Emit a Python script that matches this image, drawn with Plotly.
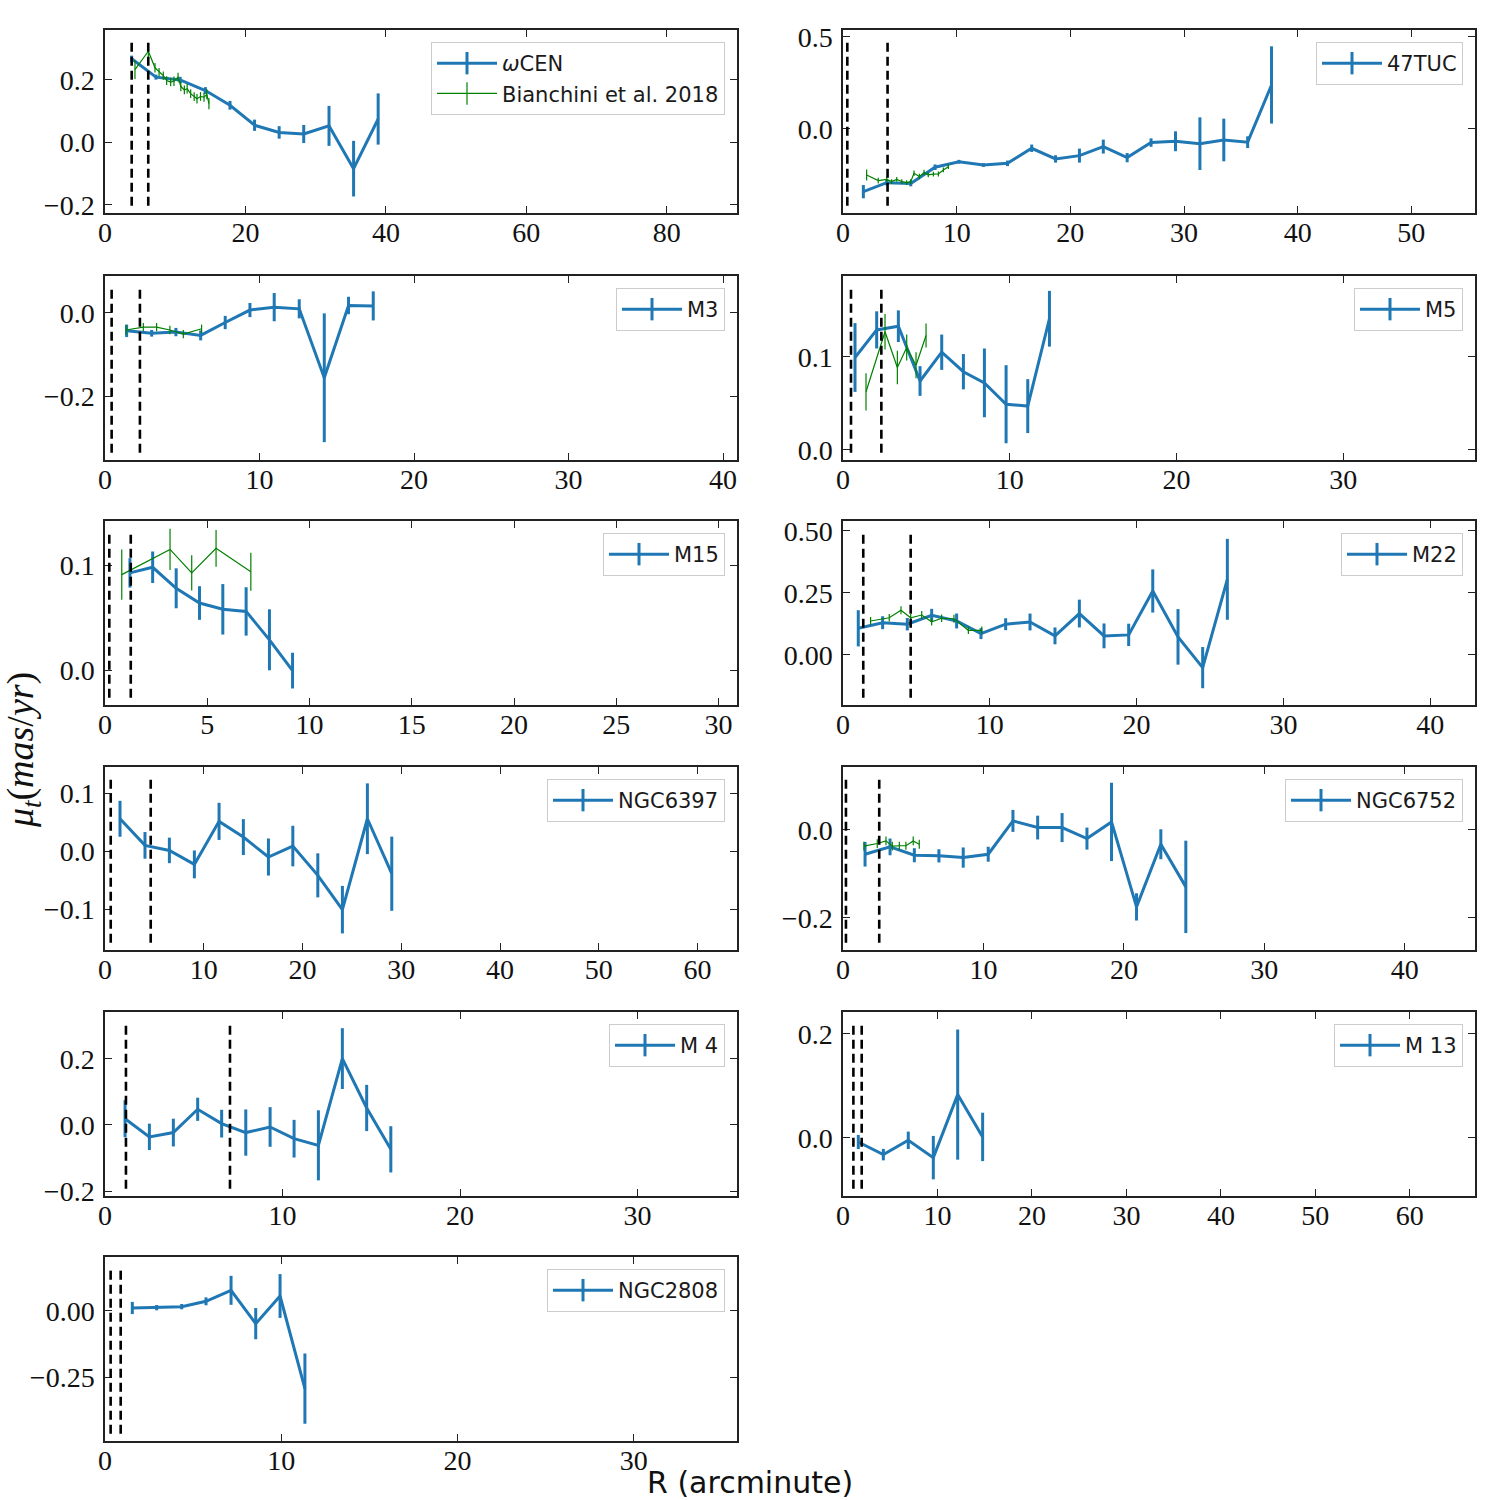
import plotly.graph_objects as go

BLUE = '#1f77b4'
GREEN = '#008000'

# ---------------- data ----------------
# omega CEN
omega_r = [3.8, 7.26, 10.7, 14.3, 17.8, 21.3, 24.8, 28.3, 31.9, 35.4, 38.9]
omega_mu = [0.268, 0.209, 0.200, 0.166, 0.119, 0.055, 0.032, 0.027, 0.053, -0.084, 0.075]
omega_err = [0.010, 0.008, 0.010, 0.011, 0.014, 0.018, 0.020, 0.029, 0.064, 0.089, 0.082]
omega_b_r = [4.27, 6.17, 7.12, 7.7, 8.3, 8.78, 9.35, 9.82, 10.4, 10.8, 11.3, 11.7, 12.2, 12.7, 13.1, 13.6, 14.1, 14.5, 14.8]
omega_b_mu = [0.233, 0.292, 0.239, 0.225, 0.214, 0.198, 0.193, 0.196, 0.209, 0.179, 0.168, 0.172, 0.156, 0.147, 0.140, 0.147, 0.145, 0.154, 0.124]
omega_b_err = [0.03, 0.02, 0.015, 0.013, 0.013, 0.014, 0.013, 0.015, 0.014, 0.015, 0.014, 0.015, 0.014, 0.014, 0.015, 0.014, 0.015, 0.016, 0.018]
omega_lines = [3.8, 6.16]
omega_xt = [0, 20, 40, 60, 80]
omega_yt = [-0.2, 0.0, 0.2]

# 47 TUC
tuc_r = [1.79, 3.85, 5.96, 8.1, 10.2, 12.35, 14.47, 16.6, 18.7, 20.8, 22.9, 25.0, 27.1, 29.25, 31.4, 33.5, 35.6, 37.7]
tuc_mu = [-0.341, -0.292, -0.297, -0.208, -0.178, -0.196, -0.187, -0.105, -0.163, -0.145, -0.096, -0.156, -0.074, -0.067, -0.080, -0.060, -0.072, 0.239]
tuc_err = [0.036, 0.015, 0.015, 0.015, 0.010, 0.010, 0.015, 0.020, 0.020, 0.038, 0.038, 0.025, 0.023, 0.054, 0.143, 0.116, 0.032, 0.21]
tuc_b_r = [2.08, 3.1, 3.85, 4.28, 4.73, 5.17, 5.6, 5.96, 6.25, 6.72, 7.13, 7.5, 7.95, 8.39, 8.83, 9.27]
tuc_b_mu = [-0.250, -0.281, -0.274, -0.286, -0.274, -0.286, -0.292, -0.286, -0.241, -0.259, -0.237, -0.250, -0.246, -0.245, -0.223, -0.205]
tuc_b_err = [0.03, 0.015, 0.015, 0.013, 0.013, 0.013, 0.013, 0.013, 0.015, 0.015, 0.015, 0.013, 0.013, 0.013, 0.013, 0.013]
tuc_lines = [0.38, 3.92]
tuc_xt = [0, 10, 20, 30, 40, 50]
tuc_yt = [0.0, 0.5]

# M3
m3_r = [1.40, 3.02, 4.59, 6.19, 7.78, 9.38, 10.95, 12.57, 14.19, 15.76, 17.36]
m3_mu = [-0.043, -0.049, -0.046, -0.054, -0.023, 0.007, 0.014, 0.010, -0.156, 0.018, 0.017]
m3_err = [0.015, 0.008, 0.010, 0.012, 0.016, 0.017, 0.034, 0.023, 0.155, 0.021, 0.035]
m3_b_r = [1.36, 2.48, 3.34, 4.20, 5.07, 6.25]
m3_b_mu = [-0.041, -0.034, -0.034, -0.041, -0.051, -0.038]
m3_b_err = [0.012, 0.010, 0.010, 0.010, 0.010, 0.010]
m3_lines = [0.43, 2.26]
m3_xt = [0, 10, 20, 30, 40]
m3_yt = [-0.2, 0.0]

# M5
m5_r = [0.72, 2.02, 3.32, 4.62, 5.92, 7.22, 8.48, 9.78, 11.08, 12.38]
m5_mu = [0.0993, 0.129, 0.133, 0.074, 0.105, 0.084, 0.072, 0.049, 0.047, 0.141]
m5_err = [0.037, 0.020, 0.017, 0.016, 0.019, 0.019, 0.037, 0.042, 0.029, 0.030]
m5_b_r = [1.38, 2.52, 3.26, 3.82, 4.38, 4.98]
m5_b_mu = [0.0624, 0.127, 0.0885, 0.110, 0.091, 0.123]
m5_b_err = [0.020, 0.019, 0.018, 0.014, 0.014, 0.013]
m5_lines = [0.48, 2.30]
m5_xt = [0, 10, 20, 30]
m5_yt = [0.0, 0.1]

# M15
m15_r = [1.22, 2.33, 3.48, 4.62, 5.76, 6.90, 8.04, 9.17]
m15_mu = [0.0927, 0.098, 0.078, 0.064, 0.058, 0.056, 0.029, -0.0003]
m15_err = [0.014, 0.015, 0.019, 0.016, 0.024, 0.023, 0.029, 0.017]
m15_b_r = [0.82, 3.18, 4.24, 5.43, 7.13]
m15_b_mu = [0.091, 0.115, 0.0927, 0.116, 0.0937]
m15_b_err = [0.024, 0.0197, 0.0167, 0.0175, 0.018]
m15_lines = [0.21, 1.26]
m15_xt = [0, 5, 10, 15, 20, 25, 30]
m15_yt = [0.0, 0.1]

# M22
m22_r = [1.04, 2.70, 4.38, 6.04, 7.74, 9.40, 11.08, 12.74, 14.44, 16.10, 17.78, 19.46, 21.10, 22.82, 24.50, 26.18]
m22_mu = [0.1075, 0.130, 0.124, 0.160, 0.137, 0.086, 0.124, 0.133, 0.077, 0.167, 0.077, 0.081, 0.258, 0.073, -0.051, 0.305]
m22_err = [0.073, 0.026, 0.025, 0.026, 0.030, 0.022, 0.024, 0.034, 0.034, 0.056, 0.050, 0.045, 0.087, 0.112, 0.083, 0.163]
m22_b_r = [1.88, 3.15, 3.95, 4.61, 5.36, 6.04, 6.72, 7.56, 8.54, 9.45]
m22_b_mu = [0.137, 0.150, 0.180, 0.150, 0.161, 0.134, 0.148, 0.146, 0.0995, 0.0995]
m22_b_err = [0.016, 0.015, 0.016, 0.015, 0.016, 0.015, 0.015, 0.016, 0.015, 0.015]
m22_lines = [1.38, 4.61]
m22_xt = [0, 10, 20, 30, 40]
m22_yt = [0.0, 0.25, 0.5]

# NGC6397
n6397_r = [1.52, 4.05, 6.52, 9.05, 11.55, 14.01, 16.55, 19.02, 21.55, 24.04, 26.57, 29.04]
n6397_mu = [0.0557, 0.0098, 0.0011, -0.0230, 0.0512, 0.0241, -0.0103, 0.0086, -0.0419, -0.1011, 0.0557, -0.0391]
n6397_err = [0.031, 0.023, 0.022, 0.024, 0.032, 0.031, 0.032, 0.035, 0.038, 0.041, 0.061, 0.064]
n6397_lines = [0.58, 4.63]
n6397_xt = [0, 10, 20, 30, 40, 50, 60]
n6397_yt = [-0.1, 0.0, 0.1]

# NGC6752
n6752_r = [1.57, 3.35, 5.08, 6.83, 8.56, 10.34, 12.10, 13.86, 15.60, 17.37, 19.12, 20.90, 22.63, 24.41]
n6752_mu = [-0.0553, -0.0386, -0.0576, -0.059, -0.0629, -0.0553, 0.0205, 0.0053, 0.0053, -0.0197, 0.0182, -0.175, -0.0326, -0.1295]
n6752_err = [0.028, 0.019, 0.016, 0.015, 0.023, 0.017, 0.025, 0.027, 0.033, 0.025, 0.089, 0.031, 0.034, 0.105]
n6752_b_r = [1.49, 2.44, 3.06, 3.51, 4.01, 4.48, 5.00, 5.43]
n6752_b_mu = [-0.037, -0.031, -0.025, -0.037, -0.036, -0.036, -0.025, -0.0326]
n6752_b_err = [0.010, 0.010, 0.010, 0.010, 0.009, 0.009, 0.010, 0.010]
n6752_lines = [0.21, 2.58]
n6752_xt = [0, 10, 20, 30, 40]
n6752_yt = [-0.2, 0.0]

# M 4
m4_r = [1.13, 2.50, 3.85, 5.22, 6.57, 7.93, 9.30, 10.65, 12.02, 13.37, 14.74, 16.10]
m4_mu = [0.019, -0.036, -0.023, 0.0475, 0.004, -0.023, -0.006, -0.0415, -0.0616, 0.201, 0.0515, -0.0737]
m4_err = [0.056, 0.040, 0.042, 0.035, 0.042, 0.070, 0.060, 0.057, 0.106, 0.092, 0.070, 0.070]
m4_lines = [1.18, 7.04]
m4_xt = [0, 10, 20, 30]
m4_yt = [-0.2, 0.0, 0.2]

# M 13
m13_r = [1.62, 4.27, 6.91, 9.56, 12.14, 14.78]
m13_mu = [-0.0077, -0.032, -0.0045, -0.0378, 0.0833, 0.002]
m13_err = [0.0135, 0.011, 0.0167, 0.0417, 0.125, 0.0465]
m13_lines = [1.10, 1.98]
m13_xt = [0, 10, 20, 30, 40, 50, 60]
m13_yt = [0.0, 0.2]

# NGC2808
n2808_r = [1.55, 2.93, 4.35, 5.73, 7.15, 8.55, 9.93, 11.34]
n2808_mu = [0.0114, 0.0126, 0.0164, 0.0366, 0.0783, -0.048, 0.0568, -0.294]
n2808_err = [0.023, 0.010, 0.010, 0.015, 0.055, 0.059, 0.083, 0.133]
n2808_lines = [0.32, 0.89]
n2808_xt = [0, 10, 20, 30]
n2808_yt = [-0.25, 0.0]

# ---------------- layout ----------------
W = 1500
col_px = [(105, 737), (843, 1475)]
row_px = [(30, 213), (276, 460), (521, 705), (767, 950), (1012, 1196), (1257, 1441)]

panels = [
    dict(label='<i>ω</i>CEN', r=omega_r, mu=omega_mu, err=omega_err,
         b=(omega_b_r, omega_b_mu, omega_b_err), lines=omega_lines,
         xr=[0, 90], yr=[-0.226, 0.36], xt=omega_xt, yt=omega_yt, yf='.1f', row=0, col=0),
    dict(label='47TUC', r=tuc_r, mu=tuc_mu, err=tuc_err,
         b=(tuc_b_r, tuc_b_mu, tuc_b_err), lines=tuc_lines,
         xr=[0, 55.6], yr=[-0.457, 0.538], xt=tuc_xt, yt=tuc_yt, yf='.1f', row=0, col=1),
    dict(label='M3', r=m3_r, mu=m3_mu, err=m3_err,
         b=(m3_b_r, m3_b_mu, m3_b_err), lines=m3_lines,
         xr=[0, 40.9], yr=[-0.354, 0.089], xt=m3_xt, yt=m3_yt, yf='.1f', row=1, col=0),
    dict(label='M5', r=m5_r, mu=m5_mu, err=m5_err,
         b=(m5_b_r, m5_b_mu, m5_b_err), lines=m5_lines,
         xr=[0, 37.9], yr=[-0.011, 0.187], xt=m5_xt, yt=m5_yt, yf='.1f', row=1, col=1),
    dict(label='M15', r=m15_r, mu=m15_mu, err=m15_err,
         b=(m15_b_r, m15_b_mu, m15_b_err), lines=m15_lines,
         xr=[0, 30.9], yr=[-0.033, 0.142], xt=m15_xt, yt=m15_yt, yf='.1f', row=2, col=0),
    dict(label='M22', r=m22_r, mu=m22_mu, err=m22_err,
         b=(m22_b_r, m22_b_mu, m22_b_err), lines=m22_lines,
         xr=[0, 43.05], yr=[-0.2016, 0.54], xt=m22_xt, yt=m22_yt, yf='.2f', row=2, col=1),
    dict(label='NGC6397', r=n6397_r, mu=n6397_mu, err=n6397_err,
         b=None, lines=n6397_lines,
         xr=[0, 64.0], yr=[-0.1707, 0.145], xt=n6397_xt, yt=n6397_yt, yf='.1f', row=3, col=0),
    dict(label='NGC6752', r=n6752_r, mu=n6752_mu, err=n6752_err,
         b=(n6752_b_r, n6752_b_mu, n6752_b_err), lines=n6752_lines,
         xr=[0, 45.0], yr=[-0.273, 0.143], xt=n6752_xt, yt=n6752_yt, yf='.1f', row=3, col=1),
    dict(label='M 4', r=m4_r, mu=m4_mu, err=m4_err,
         b=None, lines=m4_lines,
         xr=[0, 35.6], yr=[-0.215, 0.342], xt=m4_xt, yt=m4_yt, yf='.1f', row=4, col=0),
    dict(label='M 13', r=m13_r, mu=m13_mu, err=m13_err,
         b=None, lines=m13_lines,
         xr=[0, 66.9], yr=[-0.1115, 0.242], xt=m13_xt, yt=m13_yt, yf='.1f', row=4, col=1),
    dict(label='NGC2808', r=n2808_r, mu=n2808_mu, err=n2808_err,
         b=None, lines=n2808_lines,
         xr=[0, 35.85], yr=[-0.4924, 0.2045], xt=n2808_xt, yt=n2808_yt, yf='.2f', row=5, col=0),
]

TICKFONT = dict(family='Liberation Serif', size=28, color='#111111')
LEGFONT = dict(family='DejaVu Sans', size=21, color='#1a1a1a')
LW = 3.0

fig = go.Figure()
layout = dict(width=1500, height=1500,
              margin=dict(l=0, r=0, t=0, b=0, pad=0, autoexpand=False),
              paper_bgcolor='white', plot_bgcolor='white', showlegend=True)

for i, p in enumerate(panels, start=1):
    sx = '' if i == 1 else str(i)
    xa, ya = 'x' + sx, 'y' + sx
    leg = 'legend' + sx
    x0, x1 = col_px[p['col']]
    t, b = row_px[p['row']]
    axis_common = dict(showline=True, linecolor='#222222', linewidth=1.5, mirror='ticks',
                       ticks='inside', ticklen=7, tickwidth=1.3, tickcolor='#222222',
                       showgrid=False, zeroline=False, tickfont=TICKFONT, automargin=False)
    layout['xaxis' + sx] = dict(domain=[x0 / W, x1 / W], anchor=ya, range=p['xr'],
                                tickvals=p['xt'], tickformat='d', ticklabelstandoff=-6,
                                **axis_common)
    layout['yaxis' + sx] = dict(domain=[1 - b / W, 1 - t / W], anchor=xa, range=p['yr'],
                                tickvals=p['yt'], tickformat=p['yf'], ticklabelstandoff=3,
                                **axis_common)
    layout[leg] = dict(x=(x1 - 12) / W, y=1 - (t + 12) / W, xanchor='right', yanchor='top',
                       bgcolor='rgba(255,255,255,0.85)', bordercolor='#cccccc', borderwidth=1,
                       font=LEGFONT, tracegroupgap=2, itemwidth=60)

    # main series
    fig.add_trace(go.Scatter(x=p['r'], y=p['mu'], mode='lines', xaxis=xa, yaxis=ya,
                             line=dict(color=BLUE, width=LW),
                             error_y=dict(type='data', array=p['err'], color=BLUE,
                                          thickness=LW, width=0),
                             showlegend=False, hoverinfo='x+y'))
    # Bianchini comparison
    if p['b'] is not None:
        br, bm, be = p['b']
        fig.add_trace(go.Scatter(x=br, y=bm, mode='lines', xaxis=xa, yaxis=ya,
                                 line=dict(color=GREEN, width=1.2),
                                 error_y=dict(type='data', array=be, color=GREEN,
                                              thickness=1.2, width=0),
                                 showlegend=False, hoverinfo='x+y'))
    # legend handles (line with error tick)
    fig.add_trace(go.Scatter(x=[None], y=[None], mode='lines+markers', xaxis=xa, yaxis=ya,
                             name=p['label'], legend=leg,
                             line=dict(color=BLUE, width=LW),
                             marker=dict(symbol='line-ns', size=16,
                                         line=dict(color=BLUE, width=LW))))
    if i == 1:
        fig.add_trace(go.Scatter(x=[None], y=[None], mode='lines+markers', xaxis=xa, yaxis=ya,
                                 name='Bianchini et al. 2018', legend=leg,
                                 line=dict(color=GREEN, width=1.2),
                                 marker=dict(symbol='line-ns', size=16,
                                             line=dict(color=GREEN, width=1.2))))
    # dashed radii lines
    for xv in p['lines']:
        fig.add_shape(type='line', xref=xa, yref=ya + ' domain', x0=xv, x1=xv,
                      y0=0.04, y1=0.95, line=dict(color='black', width=2.6, dash='9px,5px'))

layout['annotations'] = [
    dict(text='R (arcminute)', xref='paper', yref='paper', x=750 / W, y=1 - 1482 / W,
         xanchor='center', yanchor='middle', showarrow=False,
         font=dict(family='DejaVu Sans', size=30, color='#111111')),
    dict(text='<i>μ</i><sub><i>t</i></sub>(<i>mas</i>/<i>yr</i>)', xref='paper', yref='paper',
         x=23 / W, y=0.5, xanchor='center', yanchor='middle', showarrow=False, textangle=-90,
         font=dict(family='Liberation Serif', size=38, color='#111111')),
]

fig.update_layout(**layout)
fig.write_html('out.html')
